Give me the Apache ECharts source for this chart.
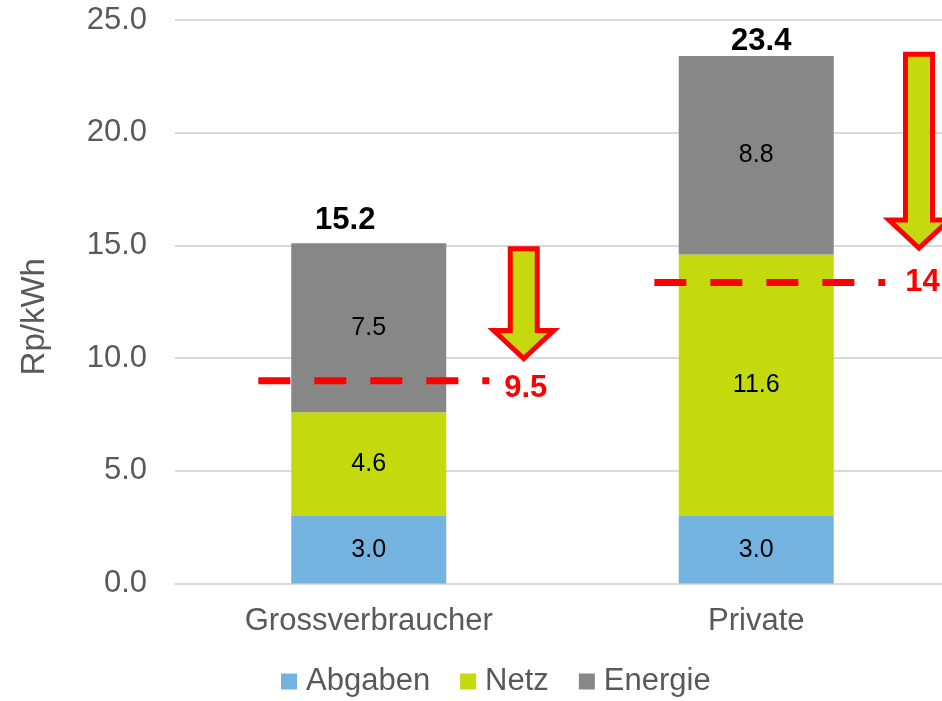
<!DOCTYPE html>
<html>
<head>
<meta charset="utf-8">
<title>Rp/kWh</title>
<script src="https://cdn.jsdelivr.net/npm/echarts@6.0.0/dist/echarts.min.js"></script>
<style>
    html, body { margin: 0; padding: 0; background: #fff; }
    #main { width: 942px; height: 701px; }
</style>
</head>
<body>
<div id="main"></div>
<script>
// Daten
var categories = ['Grossverbraucher', 'Private'];
var abgaben = [3.0, 3.0];
var netz = [4.6, 11.6];
var energie = [7.5, 8.8];
var totals = [15.2, 23.4];
var yTicks = [0, 5, 10, 15, 20, 25];

// Zielwerte (gestrichelte Linie): Beschriftung und gezeichnete Höhe
var targetText = ['9.5', '14'];
var targetLevel = [9.0, 13.35];
var targetFrom = [-0.285, 0.737];
var targetTo = [0.311, 1.333];

// Pfeile nach unten: x-Position, Start- und Endwert
var arrowX = [0.40, 1.42];
var arrowFrom = [14.85, 23.48];
var arrowTo = [9.98, 14.88];

var FONT = "'Liberation Sans', Arial, sans-serif";
var GREY_TXT = '#595959';
var RED = '#ff0000';
var GREEN = '#c5da0e';

var chart = echarts.init(document.getElementById('main'), null, { renderer: 'canvas' });

var targetData = [];
for (var i = 0; i < targetText.length; i++) {
    targetData.push([targetFrom[i], targetTo[i], targetLevel[i], i]);
}
var arrowData = [];
for (var i = 0; i < arrowX.length; i++) {
    arrowData.push([arrowX[i], arrowFrom[i], arrowTo[i]]);
}
var totalData = [];
for (var i = 0; i < totals.length; i++) {
    totalData.push([i, totals[i]]);
}

// Beschriftung der Summen (leicht versetzt wie im Original)
var totalShift = [[-23.5, -20], [5, -14.5]];
// Beschriftung der Zielwerte relativ zum Linienende
var targetLabelShift = [[15, 8], [20, 0]];

function segLabel() {
    return {
        show: true,
        position: 'inside',
        color: '#000',
        fontSize: 25,
        fontFamily: FONT,
        formatter: function (p) { return p.value.toFixed(1); }
    };
}

var option = {
    animation: false,
    textStyle: { fontFamily: FONT },
    grid: {
        left: 175,
        right: -8,
        top: 20,
        bottom: 117.5,
        containLabel: false,
        outerBoundsMode: 'none'
    },
    legend: {
        data: ['Abgaben', 'Netz', 'Energie'],
        left: 276,
        top: 661,
        icon: 'rect',
        itemWidth: 16,
        itemHeight: 16,
        itemGap: 30,
        selectedMode: false,
        textStyle: {
            fontSize: 31,
            color: GREY_TXT,
            fontFamily: FONT,
            padding: [0, 0, 0, 4]
        }
    },
    xAxis: [{
        type: 'category',
        data: categories,
        axisLine: { lineStyle: { color: '#d9d9d9', width: 2 } },
        axisTick: { show: false },
        axisLabel: { color: GREY_TXT, fontSize: 31, fontFamily: FONT, margin: 22 }
    }, {
        type: 'value',
        min: -0.5,
        max: 1.5,
        show: false
    }],
    yAxis: {
        type: 'value',
        min: yTicks[0],
        max: yTicks[yTicks.length - 1],
        interval: 5,
        name: 'Rp/kWh',
        nameLocation: 'middle',
        nameGap: 124,
        nameTextStyle: { color: GREY_TXT, fontSize: 33, fontFamily: FONT, padding: [0, 30, 0, 0] },
        axisLine: { show: false },
        axisTick: { show: false },
        axisLabel: {
            color: GREY_TXT,
            fontSize: 31,
            fontFamily: FONT,
            margin: 28,
            formatter: function (v) { return v.toFixed(1); }
        },
        splitLine: { lineStyle: { color: '#d9d9d9', width: 2 } }
    },
    series: [{
        name: 'Abgaben',
        type: 'bar',
        stack: 'kosten',
        barWidth: 155,
        data: abgaben,
        itemStyle: { color: '#74b3e0' },
        label: segLabel()
    }, {
        name: 'Netz',
        type: 'bar',
        stack: 'kosten',
        barWidth: 155,
        data: netz,
        itemStyle: { color: GREEN },
        label: segLabel()
    }, {
        name: 'Energie',
        type: 'bar',
        stack: 'kosten',
        barWidth: 155,
        data: energie,
        itemStyle: { color: '#878787' },
        label: segLabel()
    }, {
        // Summen
        type: 'custom',
        xAxisIndex: 0,
        data: totalData,
        z: 5,
        renderItem: function (params, api) {
            var idx = params.dataIndex;
            var pt = api.coord([api.value(0), api.value(1)]);
            return {
                type: 'text',
                x: pt[0] + totalShift[idx][0],
                y: pt[1] + totalShift[idx][1],
                style: {
                    text: totals[idx].toFixed(1),
                    fill: '#000',
                    font: 'bold 31px ' + FONT,
                    align: 'center',
                    verticalAlign: 'middle'
                }
            };
        }
    }, {
        // gestrichelte Ziellinien
        type: 'custom',
        xAxisIndex: 1,
        data: targetData,
        z: 6,
        renderItem: function (params, api) {
            var idx = params.dataIndex;
            var p1 = api.coord([api.value(0), api.value(2)]);
            var p2 = api.coord([api.value(1), api.value(2)]);
            return {
                type: 'group',
                children: [{
                    type: 'line',
                    shape: { x1: p1[0], y1: p1[1], x2: p2[0], y2: p2[1] },
                    style: { stroke: RED, lineWidth: 7, lineDash: [32, 24], lineCap: 'butt' }
                }, {
                    type: 'text',
                    x: p2[0] + targetLabelShift[idx][0],
                    y: p2[1] + targetLabelShift[idx][1],
                    style: {
                        text: targetText[idx],
                        fill: RED,
                        font: 'bold 31px ' + FONT,
                        align: 'left',
                        verticalAlign: 'middle'
                    }
                }]
            };
        }
    }, {
        // Pfeile
        type: 'custom',
        xAxisIndex: 1,
        data: arrowData,
        z: 7,
        renderItem: function (params, api) {
            var top = api.coord([api.value(0), api.value(1)]);
            var tip = api.coord([api.value(0), api.value(2)]);
            var cx = top[0];
            var sh = 13.5, hh = 30, hl = 28;
            var base = tip[1] - hl;
            return {
                type: 'polygon',
                shape: {
                    points: [
                        [cx - sh, top[1]], [cx + sh, top[1]], [cx + sh, base],
                        [cx + hh, base], [cx, tip[1]], [cx - hh, base], [cx - sh, base]
                    ]
                },
                style: { fill: GREEN, stroke: RED, lineWidth: 5, lineJoin: 'miter' }
            };
        }
    }]
};

chart.setOption(option);
</script>
</body>
</html>
